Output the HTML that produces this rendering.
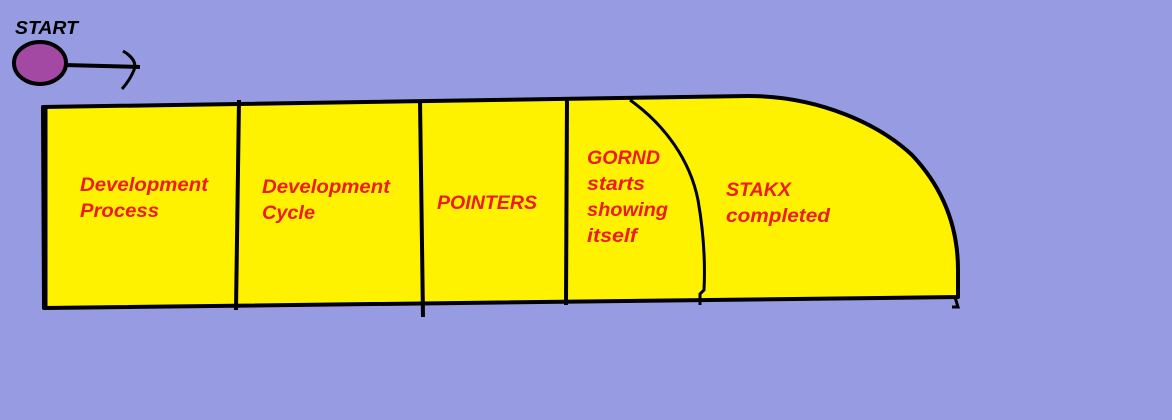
<!DOCTYPE html>
<html><head><meta charset="utf-8"><style>
html,body{margin:0;padding:0;background:#979be1;width:1172px;height:420px;overflow:hidden}
text{font-family:"Liberation Sans",sans-serif;font-weight:bold;font-style:italic}
</style></head><body>
<svg width="1172" height="420" viewBox="0 0 1172 420">
<rect width="1172" height="420" fill="#979be1"/>
<text x="15" y="34" font-size="18" fill="#000" textLength="63" lengthAdjust="spacingAndGlyphs">START</text>
<ellipse cx="40" cy="63" rx="26" ry="21" fill="#a349a4" stroke="#000" stroke-width="4"/>
<path d="M64 65 L140 67" stroke="#000" stroke-width="4" fill="none"/>
<path d="M123 51 Q138 60 134 70 Q130 80 122 89" stroke="#000" stroke-width="3" fill="none"/>
<path d="M43 107 L748 96 C820 96 880 125 912 155 C945 190 958 230 958 270 L958 297 L44 308 Z" fill="#fff200" stroke="#000" stroke-width="4" stroke-linejoin="round"/>
<path d="M45 107 L45 309" stroke="#000" stroke-width="5"/>
<path d="M239 100 L236 310" stroke="#000" stroke-width="4"/>
<path d="M420 100 L423 317" stroke="#000" stroke-width="4"/>
<path d="M567 97 L566 305" stroke="#000" stroke-width="4"/>
<path d="M630 100 C665 125 690 160 698 200 C705 240 705 270 704 290 L700 294 L700 305" stroke="#000" stroke-width="3" fill="none"/>
<path d="M955 297 L958 307 L952 307" stroke="#000" stroke-width="3" fill="none"/>
<g fill="#ed1c24" font-size="19">
<g>
<text x="80" y="191" textLength="128" lengthAdjust="spacingAndGlyphs">Development</text>
<text x="80" y="217" textLength="79" lengthAdjust="spacingAndGlyphs">Process</text></g>
<g>
<text x="262" y="193" textLength="128" lengthAdjust="spacingAndGlyphs">Development</text>
<text x="262" y="219" textLength="53" lengthAdjust="spacingAndGlyphs">Cycle</text></g>
<text x="437" y="209" textLength="100" lengthAdjust="spacingAndGlyphs">POINTERS</text>
<g>
<text x="587" y="164" textLength="73" lengthAdjust="spacingAndGlyphs">GORND</text>
<text x="587" y="190" textLength="58" lengthAdjust="spacingAndGlyphs">starts</text>
<text x="587" y="216" textLength="81" lengthAdjust="spacingAndGlyphs">showing</text>
<text x="587" y="242" textLength="50" lengthAdjust="spacingAndGlyphs">itself</text></g>
<g>
<text x="726" y="196" textLength="65" lengthAdjust="spacingAndGlyphs">STAKX</text>
<text x="726" y="222" textLength="104" lengthAdjust="spacingAndGlyphs">completed</text></g>
</g>
</svg>
</body></html>
